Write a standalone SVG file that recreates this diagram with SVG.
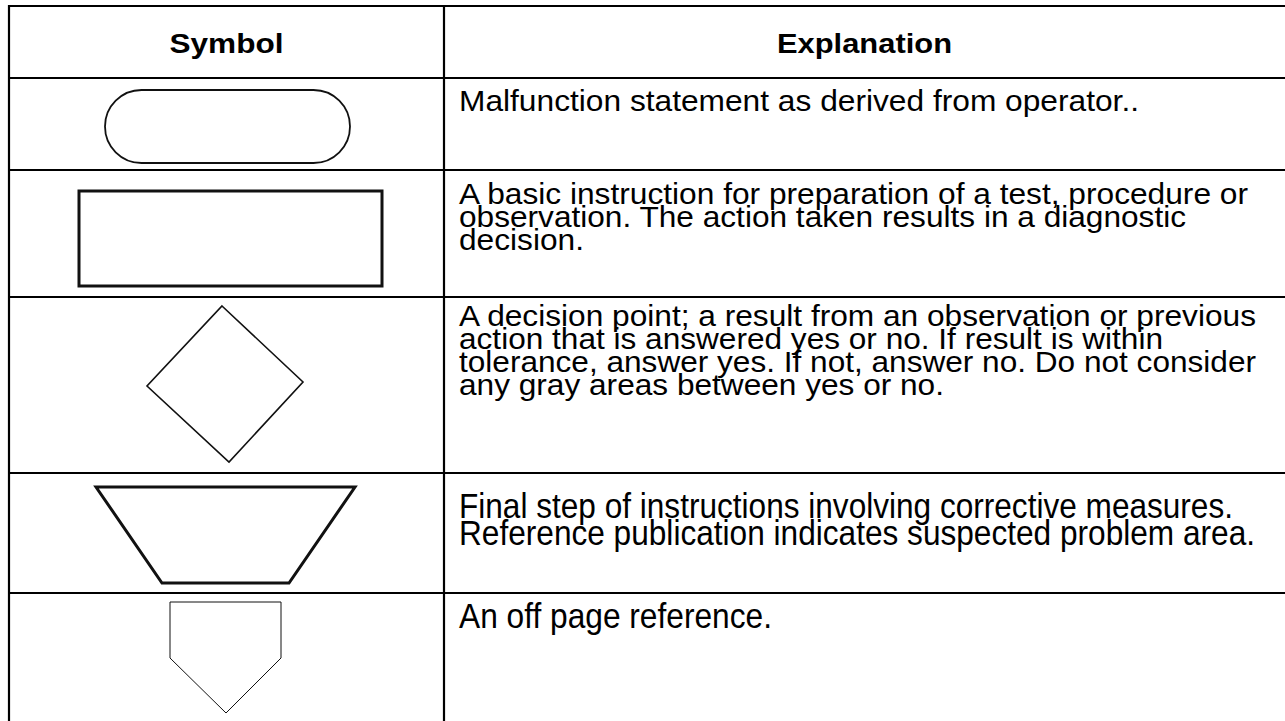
<svg xmlns="http://www.w3.org/2000/svg" width="1285" height="721" viewBox="0 0 1285 721">
  <style>
    .grid { stroke: #000; stroke-width: 2.2; fill: none; }
    .shape { fill: #fff; stroke: #111; stroke-linejoin: miter; }
    .head { font-family: "Liberation Sans", Arial, sans-serif; font-weight: bold; font-size: 28px; fill: #000; }
    .body { font-family: "Liberation Sans", Arial, sans-serif; font-size: 29px; fill: #000; }
    .narrow { font-family: "Liberation Sans", Arial, sans-serif; font-size: 35px; fill: #000; }
  </style>
  <rect width="1285" height="721" fill="#fff"/>

  <!-- table rules -->
  <g id="table-lines" class="grid">
    <line x1="9" y1="6" x2="1285" y2="6"/>
    <line x1="9" y1="78" x2="1285" y2="78"/>
    <line x1="9" y1="170" x2="1285" y2="170"/>
    <line x1="9" y1="297" x2="1285" y2="297"/>
    <line x1="9" y1="473" x2="1285" y2="473"/>
    <line x1="9" y1="593" x2="1285" y2="593"/>
    <line x1="9" y1="5" x2="9" y2="721"/>
    <line x1="444" y1="5" x2="444" y2="721"/>
  </g>

  <!-- column headings -->
  <g id="header">
    <text class="head" x="226.5" y="53" text-anchor="middle" textLength="114" lengthAdjust="spacingAndGlyphs">Symbol</text>
    <text class="head" x="864.5" y="53" text-anchor="middle" textLength="175" lengthAdjust="spacingAndGlyphs">Explanation</text>
  </g>

  <!-- terminal -->
  <g id="row-terminal">
    <rect class="shape" x="105" y="90" width="245" height="73" rx="36.5" ry="36.5" stroke-width="1.8"/>
    <text class="body" x="459" y="111" textLength="680" lengthAdjust="spacingAndGlyphs">Malfunction statement as derived from operator..</text>
  </g>

  <!-- process step -->
  <g id="row-process">
    <rect class="shape" x="79" y="191" width="303" height="95" stroke-width="3"/>
    <text class="body" x="459" y="204" textLength="789" lengthAdjust="spacingAndGlyphs">A basic instruction for preparation of a test, procedure or</text>
    <text class="body" x="459" y="227" textLength="727" lengthAdjust="spacingAndGlyphs">observation. The action taken results in a diagnostic</text>
    <text class="body" x="459" y="250" textLength="125" lengthAdjust="spacingAndGlyphs">decision.</text>
  </g>

  <!-- decision -->
  <g id="row-decision">
    <polygon class="shape" points="222,306 303,382 229,462 147,386" stroke-width="1.6"/>
    <text class="body" x="459" y="326" textLength="797" lengthAdjust="spacingAndGlyphs">A decision point; a result from an observation or previous</text>
    <text class="body" x="459" y="349" textLength="704" lengthAdjust="spacingAndGlyphs">action that is answered yes or no. If result is within</text>
    <text class="body" x="459" y="372" textLength="797" lengthAdjust="spacingAndGlyphs">tolerance, answer yes. If not, answer no. Do not consider</text>
    <text class="body" x="459" y="395" textLength="485" lengthAdjust="spacingAndGlyphs">any gray areas between yes or no.</text>
  </g>

  <!-- corrective action -->
  <g id="row-corrective">
    <polygon class="shape" points="96,487 355,487 289,583 162,583" stroke-width="3"/>
    <text class="narrow" x="459" y="518" textLength="774" lengthAdjust="spacingAndGlyphs">Final step of instructions involving corrective measures.</text>
    <text class="narrow" x="459" y="545" textLength="796" lengthAdjust="spacingAndGlyphs">Reference publication indicates suspected problem area.</text>
  </g>

  <!-- off-page connector -->
  <g id="row-offpage">
    <polygon class="shape" points="170,602 281,602 281,658 226,713 170,658" stroke-width="1" stroke="#333"/>
    <text class="narrow" x="459" y="628" textLength="313" lengthAdjust="spacingAndGlyphs">An off page reference.</text>
  </g>
</svg>
